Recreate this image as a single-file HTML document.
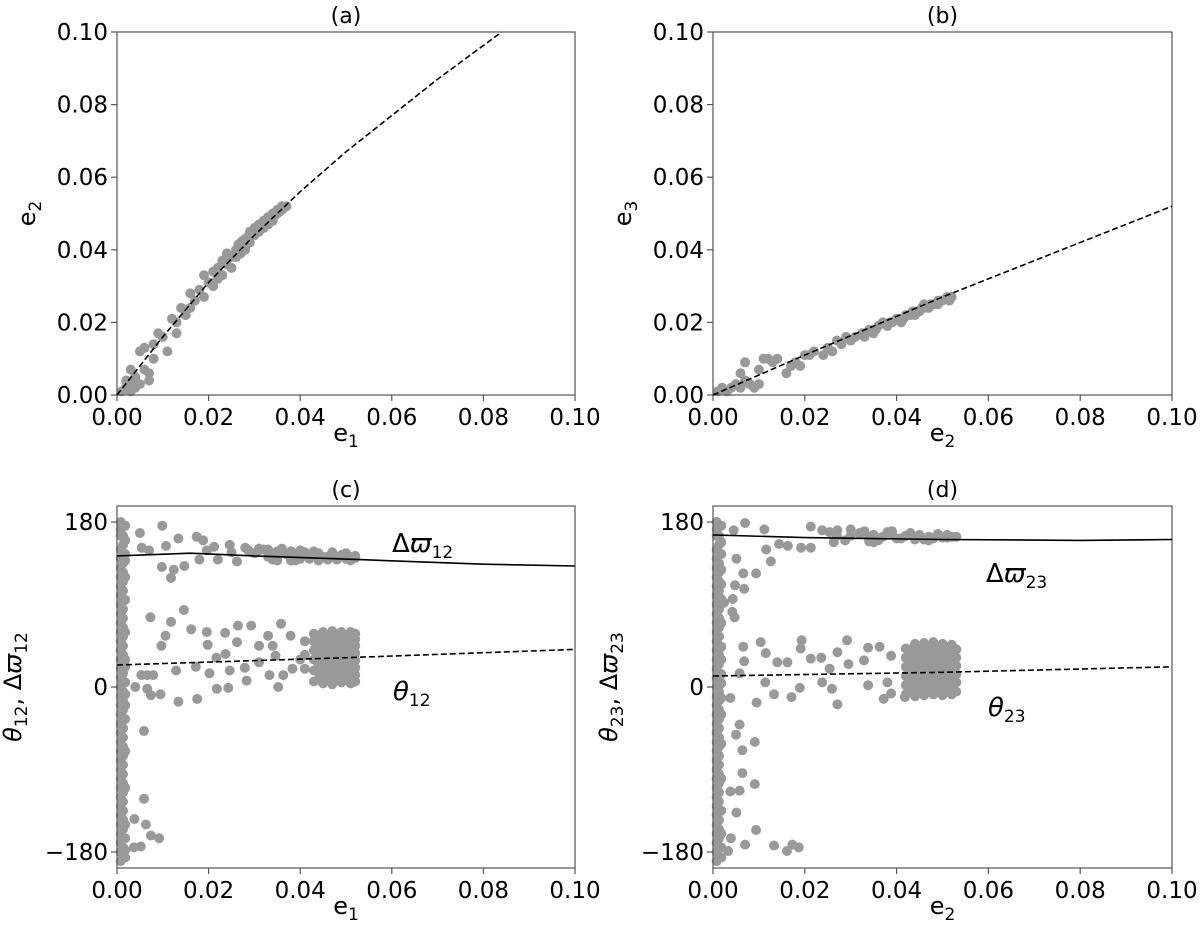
<!DOCTYPE html>
<html><head><meta charset="utf-8"><style>
body{margin:0;background:#fff}
svg{display:block;font-family:"DejaVu Sans","Liberation Sans",sans-serif}
</style></head><body>
<svg id="fig" width="1200" height="938" viewBox="0 0 1200 938"></svg>
<script>
// ---------- data ----------
const aE1=[0.001,0.002,0.002,0.003,0.003,0.004,0.004,0.005,0.003,0.005,0.006,0.006,0.007,0.007,0.008,0.008,0.009,0.010,0.011,0.012,0.013,0.013,0.014,0.015,0.016,0.016,0.017,0.018,0.019,0.019,0.020,0.021,0.021,0.022,0.023,0.023,0.024,0.025,0.025,0.026,0.027,0.027,0.028,0.028,0.029,0.029,0.030,0.030,0.031,0.031,0.032,0.032,0.033,0.033,0.034,0.034,0.035,0.035,0.036,0.036,0.037,0.026,0.028,0.024,0.022,0.0265,0.0275,0.0285,0.0295,0.0305,0.0315,0.0325,0.0335,0.0345,0.0355];
const aE2=[0.001,0.002,0.004,0.001,0.003,0.002,0.005,0.003,0.007,0.012,0.013,0.007,0.006,0.004,0.010,0.014,0.017,0.016,0.012,0.021,0.020,0.017,0.024,0.022,0.024,0.028,0.026,0.029,0.027,0.033,0.031,0.034,0.030,0.035,0.037,0.033,0.036,0.038,0.035,0.040,0.039,0.042,0.041,0.043,0.042,0.045,0.044,0.046,0.045,0.047,0.046,0.048,0.047,0.049,0.048,0.050,0.050,0.051,0.051,0.052,0.052,0.038,0.040,0.039,0.032,0.0415,0.0425,0.0435,0.0445,0.0455,0.0465,0.0475,0.0485,0.0495,0.0505];
const aFitX=[0,0.01,0.02,0.03,0.04,0.05,0.06,0.07,0.084];
const aFitY=[0,0.016,0.031,0.044,0.056,0.067,0.077,0.087,0.100];

const bE2=[0.001,0.002,0.003,0.004,0.005,0.006,0.007,0.008,0.009,0.010,0.006,0.007,0.010,0.011,0.012,0.013,0.014,0.016,0.017,0.018,0.019,0.020,0.021,0.022,0.024,0.025,0.026,0.027,0.028,0.029,0.030,0.031,0.033,0.034,0.035,0.036,0.037,0.038,0.039,0.040,0.041,0.042,0.043,0.044,0.045,0.046,0.047,0.048,0.049,0.050,0.051,0.052,0.046,0.049,0.044,0.0325,0.0355,0.0385,0.0415,0.0435,0.0455,0.0475,0.0495,0.0515];
const bE3=[0.001,0.002,0.001,0.002,0.003,0.002,0.004,0.003,0.002,0.003,0.006,0.009,0.007,0.010,0.010,0.009,0.010,0.006,0.008,0.009,0.008,0.011,0.011,0.012,0.011,0.013,0.012,0.015,0.014,0.016,0.015,0.016,0.016,0.018,0.017,0.019,0.020,0.019,0.020,0.021,0.020,0.022,0.022,0.023,0.023,0.024,0.024,0.025,0.026,0.026,0.027,0.027,0.025,0.025,0.022,0.017,0.018,0.020,0.021,0.023,0.024,0.025,0.026,0.026];
const bFitX=[0,0.02,0.05,0.1];
const bFitY=[0,0.011,0.027,0.052];

const cE1=[0.0008,0.0008,0.0008,0.0008,0.0008,0.0008,0.0008,0.0008,0.0008,0.0008,0.0008,0.0008,0.0008,0.0008,0.0008,0.0008,0.0008,0.0008,0.0008,0.0008,0.0008,0.0008,0.0008,0.0008,0.0008,0.0008,0.0008,0.0008,0.0008,0.0008,0.0008,0.0008,0.0008,0.0008,0.0008,0.0008,0.0008,0.0008,
0.0013,0.0013,0.0013,0.0013,0.0013,0.0013,0.0013,0.0013,0.0013,0.0013,0.0013,0.0013,0.0013,0.0013,0.0013,0.0013,0.0013,0.0013,0.0013,0.0013,0.0013,0.0013,0.0013,0.0013,0.0013,0.0013,0.0013,0.0013,0.0013,0.0013,0.0013,0.0013,0.0013,0.0013,0.0013,0.0013,0.0013,
0.0018,0.0018,0.0018,0.0018,0.0018,0.0018,0.0018,0.0018,0.0018,0.0018,0.0018,0.0018,0.0018,0.0018,0.0018,0.0018,0.0018,0.0018,0.0018,
0.005,0.0099,0.0134,0.0174,0.0188,0.0107,0.0054,0.0098,0.0124,0.0118,0.0147,0.007,0.0196,0.0212,0.0246,0.0262,0.0287,0.033,0.036,0.04,0.043,0.046,0.05,0.052,0.022,0.018,0.031,0.038,
0.030,0.032,0.034,0.035,0.037,0.039,0.041,0.042,0.044,0.045,0.047,0.048,0.049,0.051,0.052,0.034,0.038,0.042,0.046,0.050,
0.033,0.036,0.040,0.043,0.047,0.050,0.025,0.028,0.031,0.035,0.039,0.044,0.048,0.051,
0.0073,0.0146,0.0118,0.0106,0.0097,0.0162,0.0196,0.0198,0.0264,0.0293,0.0236,0.0262,0.0237,0.0217,0.0172,0.0129,0.0202,0.0246,0.0279,0.0283,0.0218,0.0243,0.0352,0.0175,0.0134,0.0095,0.0074,0.0059,0.0059,0.0063,0.0074,0.0092,0.0037,0.0052,0.0038,0.0053,0.0066,0.0079,0.004,0.0066,0.033,0.034,0.0346,0.0358,0.0379,0.0383,0.0363,0.031,0.031,0.0333,
0.043,0.043,0.043,0.043,0.043,0.043,0.045,0.045,0.045,0.045,0.045,0.045,0.045,0.045,0.047,0.047,0.047,0.047,0.047,0.047,0.047,0.047,0.049,0.049,0.049,0.049,0.049,0.049,0.049,0.049,0.051,0.051,0.051,0.051,0.051,0.051,0.051,0.051,0.052,0.052,0.052,0.052,0.052,0.052,0.052,0.052,0.044,0.046,0.048,0.050,
0.044,0.044,0.044,0.044,0.044,0.044,0.044,0.046,0.046,0.046,0.046,0.046,0.046,0.046,0.048,0.048,0.048,0.048,0.048,0.048,0.048,0.050,0.050,0.050,0.050,0.050,0.050,0.050,0.041,0.041,0.041,0.040];
const cAng=[180,172,165,150,140,130,120,110,100,90,80,70,60,50,40,30,20,10,0,-10,-20,-30,-40,-50,-60,-70,-80,-90,-100,-110,-120,-130,-140,-150,-160,-170,-180,-190,
175,165,155,145,135,125,115,105,95,85,75,65,55,45,35,25,15,5,-5,-15,-25,-35,-45,-55,-65,-75,-85,-95,-105,-115,-125,-135,-145,-155,-165,-175,-185,
176,160,145,138,120,95,60,30,22,5,-8,-20,-35,-70,-110,-150,-165,-178,-186,
168,176,162,164,160,154,152,131,128,119,132,149,149,153,155,137,149,142,146,140,144,142,143,141,139,139,149,148,
146,150,144,148,145,143,147,141,146,142,145,141,144,142,143,139,138,140,139,140,
150,151,149,148,147,146,147,152,151,138,138,138,139,138,
76,84,71,56,45,63,60,46,67,67,59,49,36,32,22,18,15,18,21,7,-2,-1,0,-13,-16,-8,-9,-48,-122,-150,-162,-165,-175,-174,-144,13,13,13,0,-2,56,45,34,69,56,20,13,27,45,13,
6,18,30,40,50,58,4,12,20,28,36,44,52,60,3,11,19,27,35,43,51,61,5,13,21,29,37,45,53,60,4,12,20,28,36,44,52,60,6,13,21,29,37,45,52,58,24,33,17,9,
8,16,24,32,40,48,56,8,16,24,32,40,48,56,8,16,24,32,40,48,56,8,16,24,32,40,48,56,20,35,50,30];
const cOmgX=[0,0.016,0.03,0.053,0.08,0.1];
const cOmgY=[143,146,143,139,134,132];
const cThX=[0,0.05,0.1];
const cThY=[24,32,41];

const dE2=[0.0008,0.0008,0.0008,0.0008,0.0008,0.0008,0.0008,0.0008,0.0008,0.0008,0.0008,0.0008,0.0008,0.0008,0.0008,0.0008,0.0008,0.0008,0.0008,0.0008,0.0008,0.0008,0.0008,0.0008,0.0008,0.0008,0.0008,0.0008,0.0008,0.0008,0.0008,0.0008,0.0008,0.0008,0.0008,0.0008,0.0008,0.0008,
0.0013,0.0013,0.0013,0.0013,0.0013,0.0013,0.0013,0.0013,0.0013,0.0013,0.0013,0.0013,0.0013,0.0013,0.0013,0.0013,0.0013,0.0013,0.0013,0.0013,0.0013,0.0013,0.0013,0.0013,0.0013,0.0013,0.0013,0.0013,0.0013,0.0013,0.0013,0.0013,0.0013,0.0013,0.0013,0.0013,0.0013,
0.0018,0.0018,0.0018,0.0018,0.0018,0.0018,0.0018,0.0018,0.0018,0.0018,0.0018,0.0018,0.0018,0.0018,0.0018,0.0018,0.0018,0.0018,0.0018,
0.007,0.0045,0.0112,0.0144,0.0163,0.0116,0.0126,0.0051,0.0066,0.0094,0.0048,0.0068,0.0043,0.0024,0.0042,0.0047,0.0213,0.0192,0.0213,0.0238,0.0254,0.0271,0.0263,0.0288,0.032,
0.030,0.032,0.034,0.035,0.037,0.039,0.041,0.042,0.044,0.045,0.047,0.048,0.049,0.051,0.052,0.036,0.040,0.046,0.050,0.053,
0.033,0.035,0.038,0.043,0.047,0.051,0.027,0.030,0.034,0.039,0.044,0.049,
0.0066,0.0104,0.0115,0.0068,0.014,0.0162,0.0193,0.0191,0.0213,0.0236,0.0271,0.0292,0.0338,0.0363,0.0295,0.0329,0.0254,0.0238,0.0259,0.0271,0.0189,0.0171,0.0133,0.0114,0.0058,0.0095,0.0038,0.0372,0.0388,0.0418,0.0338,0.038,0.0388,
0.0058,0.005,0.0091,0.0064,0.0064,0.0091,0.0038,0.0058,0.0051,0.0094,0.007,0.0133,0.0161,0.0173,0.0187,0.0033,0.0039,
0.042,0.042,0.042,0.042,0.042,0.042,0.044,0.044,0.044,0.044,0.044,0.044,0.044,0.044,0.046,0.046,0.046,0.046,0.046,0.046,0.046,0.046,0.048,0.048,0.048,0.048,0.048,0.048,0.048,0.048,0.050,0.050,0.050,0.050,0.050,0.050,0.050,0.050,0.052,0.052,0.052,0.052,0.052,0.052,0.052,0.052,0.043,0.047,0.049,0.051,
0.043,0.043,0.043,0.043,0.043,0.043,0.045,0.045,0.045,0.045,0.045,0.045,0.047,0.047,0.047,0.047,0.047,0.047,0.049,0.049,0.049,0.049,0.049,0.049,0.051,0.051,0.051,0.051,0.051,0.051,0.053,0.053,0.053,0.053,0.053,0.053];
const dAng=[180,172,165,150,140,130,120,110,100,90,80,70,60,50,40,30,20,10,0,-10,-20,-30,-40,-50,-60,-70,-80,-90,-100,-110,-120,-130,-140,-150,-160,-170,-180,-190,
175,165,155,145,135,125,115,105,95,85,75,65,55,45,35,25,15,5,-5,-15,-25,-35,-45,-55,-65,-75,-85,-95,-105,-115,-125,-135,-145,-155,-165,-175,-185,
176,158,145,128,112,96,70,44,30,14,4,-12,-30,-62,-100,-135,-160,-175,-186,
179,171,172,156,154,150,137,140,124,124,111,107,96,92,82,76,175,152,152,171,169,171,158,160,167,
165,168,163,166,164,167,162,165,163,166,164,162,165,163,164,160,162,161,163,164,
170,158,169,168,160,166,165,172,159,170,161,167,
44,49,37,28,27,27,51,42,31,32,38,51,43,44,25,29,20,5,-2,-19,-1,-11,-8,5,15,-17,-12,-13,-7,-11,2,5,34,
-41,-52,-60,-69,-94,-106,-114,-113,-137,-156,-172,-173,-179,-172,-175,-179,-165,
-8,2,12,22,32,42,-10,-1,8,16,24,32,40,47,-9,0,9,17,25,33,41,48,-8,1,10,18,26,34,42,49,-9,0,9,17,25,33,41,47,-8,1,10,18,26,34,40,46,14,21,28,6,
-5,5,14,23,32,41,-5,5,14,23,32,41,-5,5,14,23,32,41,-5,5,14,23,32,41,-5,5,14,23,32,41,-5,5,14,23,32,41];
const dOmgX=[0,0.02,0.05,0.08,0.1];
const dOmgY=[166,163,161,160,161];
const dThX=[0,0.05,0.1];
const dThY=[12,16,22];

const xTicks=[0,0.02,0.04,0.06,0.08,0.10];
const xTickLabels=["0.00","0.02","0.04","0.06","0.08","0.10"];
const eTicks=[0,0.02,0.04,0.06,0.08,0.10];
const eTickLabels=["0.00","0.02","0.04","0.06","0.08","0.10"];
const angTicks=[-180,0,180];
const angTickLabels=["\u2212180","0","180"];

// ---------- drawing ----------
const NS="http://www.w3.org/2000/svg";
const svg=document.getElementById('fig');
function mk(tag,attrs,parent){const e=document.createElementNS(NS,tag);for(const k in attrs)e.setAttribute(k,attrs[k]);(parent||svg).appendChild(e);return e;}
const ylabOff={a:82,b:82,c:96,d:96};
function panel(id,px0,px1,py0,py1,xd,yd,xs,ys,yTicks,yLabels,title,xlab,ylab){
  const g=mk('g',{});
  
  
  const sx=v=>px0+(v-xd[0])/(xd[1]-xd[0])*(px1-px0);
  const sy=v=>py1-(v-yd[0])/(yd[1]-yd[0])*(py1-py0);
  const pts=mk('g',{fill:'#999999'},g);
  
  
  for(let i=0;i<xs.length;i++){
    const c=mk('circle',{cx:sx(xs[i]).toFixed(1),cy:sy(ys[i]).toFixed(1),r:5},pts);
    
    
  }
  const frame=mk('rect',{x:px0,y:py0,width:px1-px0,height:py1-py0,fill:'none',stroke:'#555','stroke-width':1.2},g);
  
  
  xTicks.forEach((t,i)=>{
    const x=sx(t);
    mk('line',{x1:x,x2:x,y1:py1,y2:py1+6,stroke:'#555','stroke-width':1.2},g);
    const tx=mk('text',{x:x,y:py1+30,'font-size':23,'text-anchor':'middle',fill:'#000'},g);
    tx.textContent=xTickLabels[i];
    
    
  });
  yTicks.forEach((t,i)=>{
    const y=sy(t);
    mk('line',{x1:px0-6,x2:px0,y1:y,y2:y,stroke:'#555','stroke-width':1.2},g);
    const tx=mk('text',{x:px0-9,y:y+8,'font-size':23,'text-anchor':'end',fill:'#000'},g);
    tx.textContent=yLabels[i];
    
    
  });
  const tt=mk('text',{x:(px0+px1)/2,y:py0-9,'font-size':22,'text-anchor':'middle'},g);
  tt.textContent=title;
  
  
  const xl=mk('text',{x:(px0+px1)/2,y:py1+46,'font-size':24,'text-anchor':'middle'},g);
  xl.innerHTML=xlab;
  
  
  const cy=(py0+py1)/2;
  const yl=mk('text',{x:0,y:0,'font-size':24,'text-anchor':'middle',transform:`translate(${px0-ylabOff[id]},${cy}) rotate(-90)`},g);
  yl.innerHTML=ylab;
  
  
  return {g,sx,sy};
}
function line(p,xs,ys,dash,name){
  const d=xs.map((v,i)=>(i?'L':'M')+p.sx(v).toFixed(1)+','+p.sy(ys[i]).toFixed(1)).join(' ');
  const l=mk('path',{d:d,fill:'none',stroke:'#000','stroke-width':1.6,'stroke-dasharray':dash?'6,3':'none'},p.g);
  
  
}
function sub(t){return `<tspan font-size="17" dy="6">${t}</tspan>`;}

const pa=panel('a',117,575,32,395,[0,0.1],[0,0.1],aE1,aE2,eTicks,eTickLabels,'(a)','e'+sub('1'),'e'+sub('2'));
line(pa,aFitX,aFitY,true,'fit-line-a');
const pb=panel('b',713,1172,32,395,[0,0.1],[0,0.1],bE2,bE3,eTicks,eTickLabels,'(b)','e'+sub('2'),'e'+sub('3'));
line(pb,bFitX,bFitY,true,'fit-line-b');
const pc=panel('c',117,575,506,868,[0,0.1],[-197.5,197.5],cE1,cAng,angTicks,angTickLabels,'(c)','e'+sub('1'),'<tspan font-style="italic">θ</tspan>'+sub('12')+'<tspan dy="-6">, Δ</tspan><tspan font-style="italic">ϖ</tspan>'+sub('12'));
line(pc,cOmgX,cOmgY,false,'delta-varpi-12-line');
line(pc,cThX,cThY,true,'theta-12-line');
const pd=panel('d',713,1172,506,868,[0,0.1],[-197.5,197.5],dE2,dAng,angTicks,angTickLabels,'(d)','e'+sub('2'),'<tspan font-style="italic">θ</tspan>'+sub('23')+'<tspan dy="-6">, Δ</tspan><tspan font-style="italic">ϖ</tspan>'+sub('23'));
line(pd,dOmgX,dOmgY,false,'delta-varpi-23-line');
line(pd,dThX,dThY,true,'theta-23-line');

function ann(x,y,html,name){
  const t=mk('text',{x:x,y:y,'font-size':26});
  t.innerHTML=html;
  
  
}
ann(392,552,'Δ<tspan font-style="italic">ϖ</tspan>'+sub('12'),'delta-varpi-12-label');
ann(393,700,'<tspan font-style="italic">θ</tspan>'+sub('12'),'theta-12-label');
ann(986,582,'Δ<tspan font-style="italic">ϖ</tspan>'+sub('23'),'delta-varpi-23-label');
ann(988,716,'<tspan font-style="italic">θ</tspan>'+sub('23'),'theta-23-label');
</script>
</body></html>
